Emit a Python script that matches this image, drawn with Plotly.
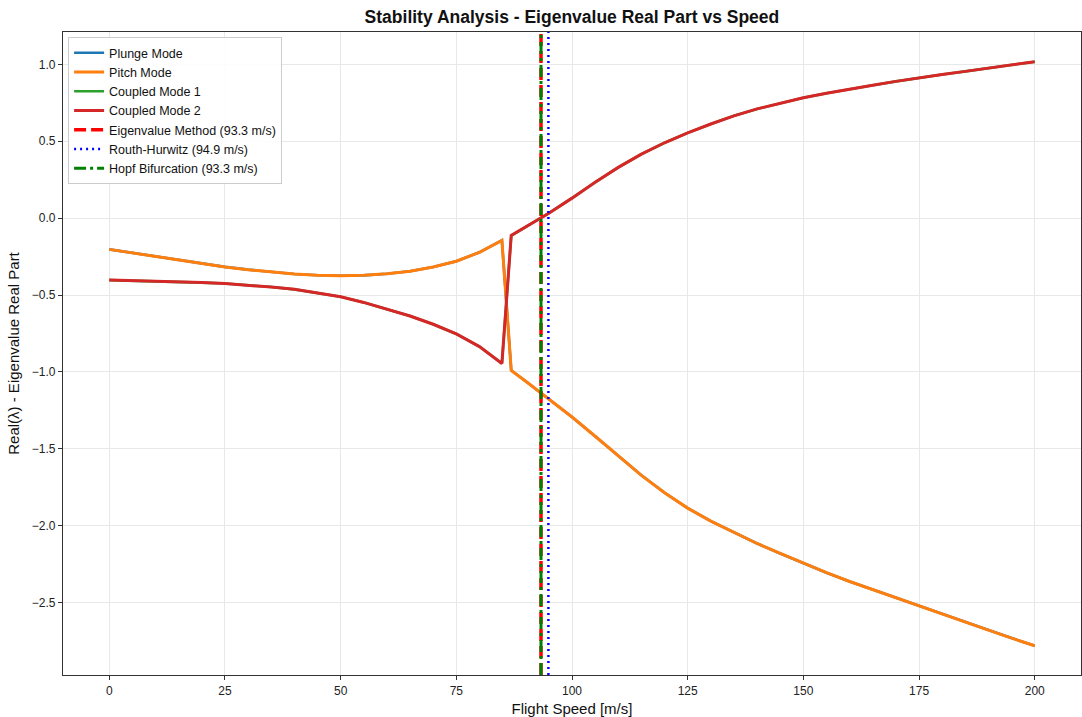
import plotly.graph_objects as go

# ---- data ----
speed = [0, 5, 10, 15, 20, 25, 30, 35, 40, 45, 50, 55, 60, 65, 70, 75, 80, 84.85,
         86.87, 90, 93.3, 95, 100, 105, 110, 115, 120, 125, 130, 135, 140, 145, 150,
         155, 160, 165, 170, 175, 180, 185, 190, 195, 200]
pitch_mode = [-0.203, -0.226, -0.249, -0.272, -0.295, -0.317, -0.335, -0.351, -0.363,
              -0.371, -0.375, -0.372, -0.362, -0.345, -0.318, -0.280, -0.222, -0.145,
              -0.99, -1.06, -1.137, -1.175, -1.293, -1.418, -1.548, -1.672, -1.785, -1.885,
              -1.97, -2.045, -2.115, -2.18, -2.245, -2.305, -2.362, -2.415, -2.47,
              -2.522, -2.575, -2.627, -2.678, -2.73, -2.78]
plunge_mode = list(pitch_mode)
coupled_mode_2 = [-0.403, -0.406, -0.41, -0.414, -0.419, -0.425, -0.435, -0.448, -0.463,
                  -0.485, -0.511, -0.548, -0.590, -0.636, -0.690, -0.753, -0.835, -0.945,
                  -0.113, -0.058, 0.0, 0.032, 0.13, 0.233, 0.330, 0.416, 0.490, 0.554,
                  0.612, 0.665, 0.710, 0.749, 0.783, 0.812, 0.84, 0.864, 0.889, 0.913,
                  0.934, 0.954, 0.974, 0.996, 1.017]
coupled_mode_1 = list(coupled_mode_2)

v_eigen = 93.3
v_routh = 94.9
v_hopf = 93.3

x_range = [-10, 210]
y_range = [-2.97, 1.21]
x_ticks = [0, 25, 50, 75, 100, 125, 150, 175, 200]
y_ticks = [-2.5, -2.0, -1.5, -1.0, -0.5, 0.0, 0.5, 1.0]

fig = go.Figure()
for name, ys, col, w in [("Plunge Mode", plunge_mode, "#1f77b4", 2.6),
                         ("Pitch Mode", pitch_mode, "#ff7f0e", 3),
                         ("Coupled Mode 1", coupled_mode_1, "#2ca02c", 2.6),
                         ("Coupled Mode 2", coupled_mode_2, "#d62728", 3)]:
    fig.add_trace(go.Scatter(x=speed, y=ys, mode="lines", name=name,
                             line=dict(color=col, width=w)))

fig.add_trace(go.Scatter(x=[v_eigen, v_eigen], y=y_range, mode="lines",
                         name=f"Eigenvalue Method ({v_eigen:.1f} m/s)",
                         line=dict(color="#ff0000", width=3.5, dash="12px,5px")))
fig.add_trace(go.Scatter(x=[v_routh, v_routh], y=y_range, mode="lines",
                         name=f"Routh-Hurwitz ({v_routh:.1f} m/s)",
                         line=dict(color="#0000ff", width=2.5, dash="2px,4px")))
fig.add_trace(go.Scatter(x=[v_hopf, v_hopf], y=y_range, mode="lines",
                         name=f"Hopf Bifurcation ({v_hopf:.1f} m/s)",
                         line=dict(color="#008000", width=3, dash="12px,4px,3px,4px")))

axis_common = dict(showline=True, linecolor="#333333", linewidth=1.2, mirror=True,
                   ticks="outside", ticklen=4, tickcolor="#333333",
                   showgrid=True, gridcolor="#e8e8e8", gridwidth=1, zeroline=False,
                   tickfont=dict(family="Liberation Sans, Arial", size=12, color="#222"))

fig.update_layout(
    width=1082, height=717,
    margin=dict(l=63, r=1, t=32, b=42),
    paper_bgcolor="white", plot_bgcolor="white",
    title=dict(text="<b>Stability Analysis - Eigenvalue Real Part vs Speed</b>",
               x=0.5286, xanchor="center", y=0.976, yanchor="middle",
               font=dict(family="Liberation Sans, Arial", size=17.5, color="#111")),
    xaxis=dict(range=x_range, tickvals=x_ticks,
               title=dict(text="Flight Speed [m/s]", standoff=6,
                          font=dict(family="Liberation Sans, Arial", size=15, color="#111")),
               **axis_common),
    yaxis=dict(range=y_range, tickvals=y_ticks, tickformat=".1f",
               title=dict(text="Real(λ) - Eigenvalue Real Part", standoff=8,
                          font=dict(family="Liberation Sans, Arial", size=15, color="#111")),
               **axis_common),
    legend=dict(x=0.005, y=0.992, xanchor="left", yanchor="top",
                bgcolor="rgba(255,255,255,0.9)", bordercolor="#cccccc", borderwidth=1,
                font=dict(family="Liberation Sans, Arial", size=12.5, color="#111"),
                tracegroupgap=0, itemwidth=30),
    showlegend=True,
)

fig.write_html("out.html")
